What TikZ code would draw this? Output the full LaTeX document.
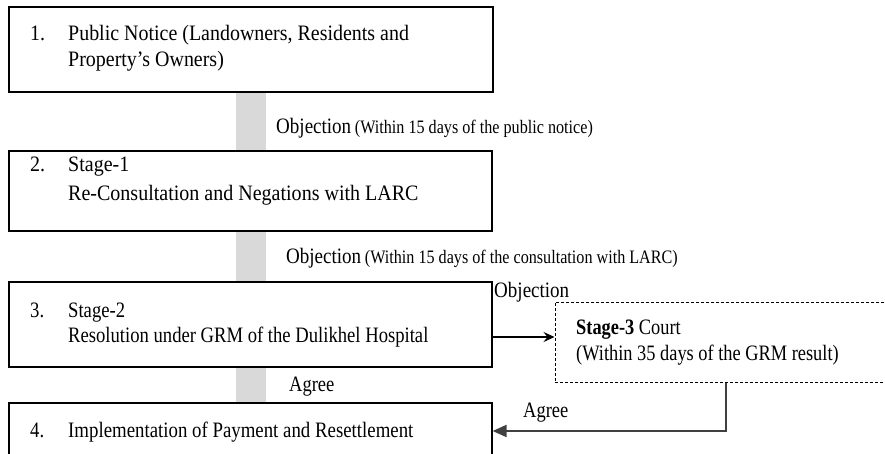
\documentclass[tikz,border=0pt]{standalone}
\usepackage{fontspec}
\usepackage{graphicx}
\setmainfont{Liberation Serif}
\usetikzlibrary{arrows.meta}
\definecolor{bargray}{HTML}{D9D9D9}
\definecolor{linkgray}{HTML}{404040}
\newcommand{\hsq}[2]{\scalebox{#1}[1]{#2}}
\tikzset{
  stagebox/.style={draw=black, line width=1.2pt, fill=white, rectangle, inner sep=0pt},
  courtbox/.style={draw=black, line width=1pt, dash pattern=on 3pt off 2pt, fill=white, rectangle, inner sep=0pt},
  bar/.style={fill=bargray, draw=none, rectangle, inner sep=0pt, minimum width=30pt},
  txt/.style={anchor=base west, inner sep=0pt, font=\fontsize{22}{26}\selectfont},
  lbl/.style={anchor=base west, inner sep=0pt, font=\fontsize{22}{26}\selectfont},
}
\begin{document}
\begin{tikzpicture}[x=1pt,y=-1pt]
\useasboundingbox (0,0) rectangle (885,454);
\clip (0,0) rectangle (885,454);
% bars
\node[bar, minimum height=59pt] (bar1) at (251,121.5) {};
\node[bar, minimum height=51pt] (bar2) at (251,256.5) {};
\node[bar, minimum height=36pt] (bar3) at (251,385) {};
% boxes
\node[stagebox, minimum width=484pt, minimum height=85pt] (b1) at (251,49.5) {};
\node[stagebox, minimum width=483pt, minimum height=80pt] (b2) at (250.5,191) {};
\node[stagebox, minimum width=483pt, minimum height=85pt] (b3) at (250.5,324.5) {};
\node[stagebox, minimum width=483pt, minimum height=57pt] (b4) at (250.5,431.5) {};
\node[courtbox, minimum width=337pt, minimum height=80pt] (b5) at (723.5,342) {};
% box texts
\node[txt] (n1) at (30,41) {\hsq{0.91}{1.}};
\node[txt] (t1a) at (68,41) {\hsq{0.907}{Public Notice (Landowners, Residents and}};
\node[txt] (t1b) at (68,67) {\hsq{0.907}{Property’s Owners)}};
\node[txt] (n2) at (30,172) {\hsq{0.91}{2.}};
\node[txt] (t2a) at (68,172) {\hsq{0.91}{Stage-1}};
\node[txt] (t2b) at (68,201) {\hsq{0.91}{Re-Consultation and Negations with LARC}};
\node[txt] (n3) at (30,317) {\hsq{0.85}{3.}};
\node[txt] (t3a) at (68,317) {\hsq{0.847}{Stage-2}};
\node[txt] (t3b) at (68,342) {\hsq{0.847}{Resolution under GRM of the Dulikhel Hospital}};
\node[txt] (n4) at (30,437) {\hsq{0.85}{4.}};
\node[txt] (t4a) at (68,437) {\hsq{0.856}{Implementation of Payment and Resettlement}};
\node[txt] (t5a) at (576,334) {\hsq{0.835}{\textbf{Stage-3} Court}};
\node[txt] (t5b) at (576,360) {\hsq{0.835}{(Within 35 days of the GRM result)}};
% labels
\node[lbl] (l1) at (276,134) {\hsq{0.865}{Objection}\,\hsq{0.85}{\fontsize{19}{22}\selectfont (Within 15 days of the public notice)}};
\node[lbl] (l2) at (286,263) {\hsq{0.865}{Objection}\,\hsq{0.85}{\fontsize{19}{22}\selectfont (Within 15 days of the consultation with LARC)}};
\node[lbl] (l3) at (494,297) {\hsq{0.865}{Objection}};
\node[lbl] (l4) at (289,391) {\hsq{0.84}{Agree}};
\node[lbl] (l5) at (523,417) {\hsq{0.84}{Agree}};
% connectors
\draw[line width=1.2pt, -{Stealth[length=11pt,width=10pt,inset=4pt]}] (b3.east |- 0,337) -- (b5.west |- 0,337);
\coordinate (c1) at (726,431);
\draw[linkgray, line width=2pt, -{Triangle[length=14pt,width=12pt]}] (b5.south -| c1) -- (c1) -- (b4.east |- c1);
\end{tikzpicture}
\end{document}
